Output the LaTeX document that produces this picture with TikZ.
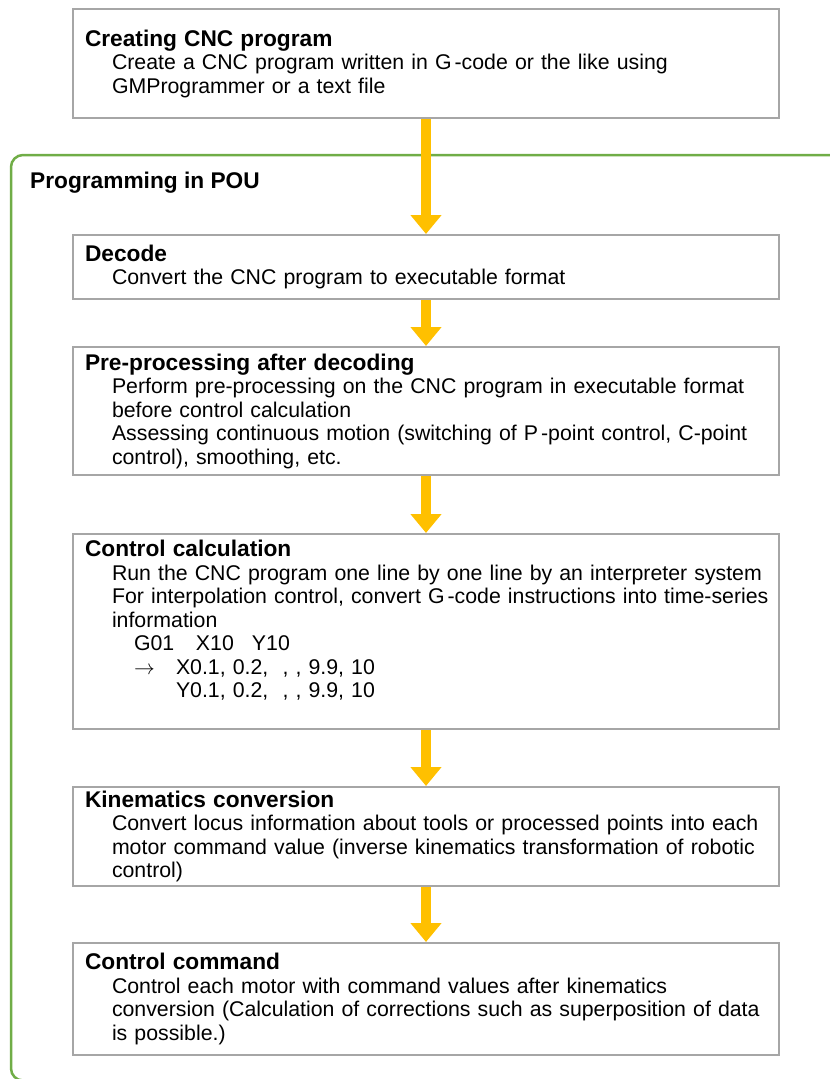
\documentclass[tikz,border=0pt]{standalone}
\usepackage{fontspec}
\setmainfont{Liberation Sans}
\definecolor{boxgray}{RGB}{166,166,166}
\definecolor{pougreen}{RGB}{112,173,71}
\definecolor{flowyellow}{RGB}{255,192,0}
\usetikzlibrary{arrows.meta, positioning}

\newcommand{\boxtitle}[1]{{\fontsize{22.7}{23.5}\selectfont\bfseries #1}}
\newcommand{\ind}{\hspace*{27pt}}

\begin{document}
\begin{tikzpicture}[x=1pt, y=-1pt,
          box/.style={draw=boxgray, line width=2pt, fill=white,
              text width=682pt, inner xsep=12pt, inner ysep=0pt,
              align=left, font=\fontsize{21.3}{23.5}\selectfont},
          arr/.style={-{Triangle[width=30pt, length=19pt]}, flowyellow, line width=10pt},
          pou/.style={draw=pougreen, line width=2.5pt, rounded corners=12pt}
        ]
        \useasboundingbox (0,0) rectangle (830,1079);
        % POU frame, runs off the right and bottom edges
        \begin{scope}
          \clip (0,0) rectangle (830,1079);
          \draw[pou] (11,155) rectangle (850,1080.5);
        \end{scope}
        \node[anchor=base west, inner sep=0pt, font=\fontsize{22.7}{23.5}\selectfont\bfseries]
        (poutitle) at (30,188) {Programming in POU};

        \node[box, minimum height=109pt, anchor=north west] (create) at (72,8)
        {\boxtitle{Creating CNC program}\\
         \ind Create a CNC program written in G\kern3pt-code or the like using\\
         \ind GMProgrammer or a text file};
        \node[box, minimum height=64pt, below=115pt of create] (decode)
        {\boxtitle{Decode}\\
         \ind Convert the CNC program to executable format};
        \node[box, minimum height=128pt, below=46pt of decode] (pre)
        {\boxtitle{Pre-processing after decoding}\\
         \ind Perform pre-processing on the CNC program in executable format\\
         \ind before control calculation\\
         \ind Assessing continuous motion (switching of P\kern3pt-point control, C-point\\
         \ind control), smoothing, etc.};
        % last empty line keeps the text block up in the box
        \node[box, minimum height=195pt, below=57pt of pre] (calc)
        {\boxtitle{Control calculation}\\
         \ind Run the CNC program one line by one line by an interpreter system\\
         \ind\mbox{For interpolation control, convert G\kern3pt-code instructions into time-series}\\
         \ind information\\
         \hspace*{49pt}\makebox[62pt][l]{G01}\makebox[56pt][l]{X10}Y10\\
         \hspace*{49pt}\makebox[42pt][l]{$\rightarrow$}X0.1, 0.2,\ \ , , 9.9, 10\\
         \hspace*{91pt}Y0.1, 0.2,\ \ , , 9.9, 10\\[1pt]
         \mbox{}};
        \node[box, minimum height=99pt, below=56pt of calc] (kin)
        {\boxtitle{Kinematics conversion}\\
         \ind Convert locus information about tools or processed points into each\\
         \ind motor command value (inverse kinematics transformation of robotic\\
         \ind control)};
        \node[box, minimum height=112pt, below=55pt of kin] (cmd)
        {\boxtitle{Control command}\\
         \ind Control each motor with command values after kinematics\\
         \ind conversion (Calculation of corrections such as superposition of data\\
         \ind is possible.)};

        \draw[arr] (create) -- (decode);
        \draw[arr] (decode) -- (pre);
        \draw[arr] (pre)    -- (calc);
        \draw[arr] (calc)   -- (kin);
        \draw[arr] (kin)    -- (cmd);
      \end{tikzpicture}
\end{document}
